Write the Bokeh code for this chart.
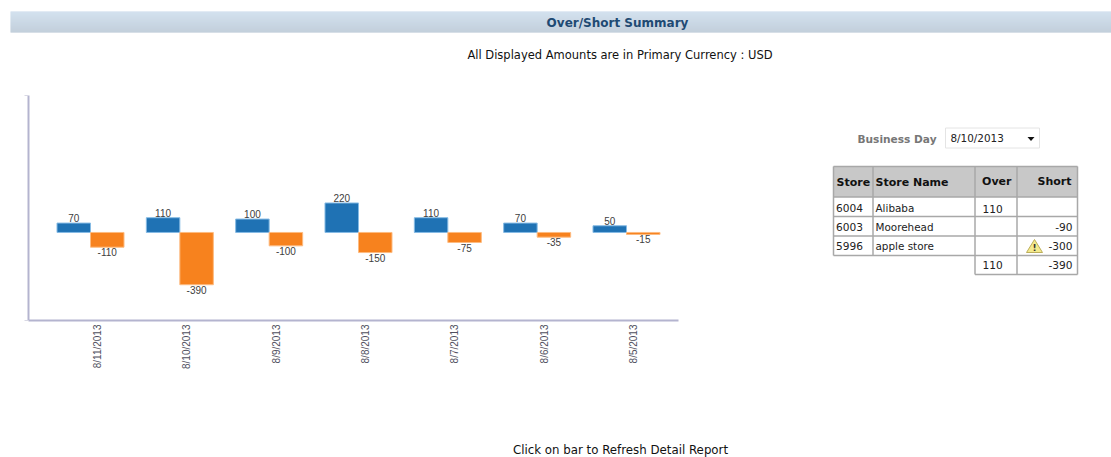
from math import pi
from bokeh.plotting import figure
from bokeh.layouts import column, row
from bokeh.models import Range1d, FixedTicker
from bokeh.core.properties import value
from bokeh.embed import file_html
from bokeh.resources import INLINE

# ---- data ----
dates = ["8/11/2013", "8/10/2013", "8/9/2013", "8/8/2013", "8/7/2013", "8/6/2013", "8/5/2013"]
over = [70, 110, 100, 220, 110, 70, 50]
short = [-110, -390, -100, -150, -75, -35, -15]

table_headers = ["Store", "Store Name", "Over", "Short"]
table_store = ["6004", "6003", "5996"]
table_name = ["Alibaba", "Moorehead", "apple store"]
table_over = ["110", "", ""]
table_short = ["", "-90", "-300"]
total_over = "110"
total_short = "-390"

title_text = "Over/Short Summary"
subtitle_text = "All Displayed Amounts are in Primary Currency : USD"
footer_text = "Click on bar to Refresh Detail Report"
selector_label = "Business Day"
selector_value = "8/10/2013"

UI = value("DejaVu Sans")
CHART = value("Liberation Sans")


def page_fig(x0, x1, y0, y1, **kw):
    """A figure whose data coordinates are page pixels (y downwards)."""
    f = figure(width=x1 - x0, height=y1 - y0, x_range=Range1d(x0, x1), y_range=Range1d(y1, y0),
               output_backend="svg", toolbar_location=None, min_border=0,
               outline_line_color=None, background_fill_color="white", **kw)
    f.axis.visible = False
    f.grid.visible = False
    return f


def txt(f, x, y, s, size="12px", color="#222222", style="normal", align="left"):
    f.text([x], [y], text=[s], text_font=UI, text_font_size=size, text_color=color,
           text_font_style=style, text_align=align, text_baseline="middle")


# ---- header ----
head = page_fig(0, 1111, 0, 90)
rows_n = 21
for i in range(rows_n):
    t = i / (rows_n - 1)
    c = "#%02x%02x%02x" % (int(197 - 22 * t), int(216 - 24 * t), int(234 - 26 * t))
    head.quad(left=[10], right=[1111], top=[11 + i], bottom=[12 + i], fill_color=c, line_color=None)
txt(head, 617, 22, title_text, "12px", "#1f4a73", "bold", "center")
txt(head, 619.5, 54, subtitle_text, "11.5px", "#111111", "normal", "center")

# ---- chart ----
PX = 89.33
idx = list(range(len(dates)))
w = 33.5 / PX
shift = 7 / PX
chart = figure(width=698, height=330, x_range=Range1d(-69 / PX, 6 + 45 / PX), y_range=Range1d(-657, 1022),
               output_backend="svg", toolbar_location=None, min_border_left=28, min_border_right=20,
               min_border_top=5, min_border_bottom=100, outline_line_color=None)
chart.grid.visible = False
x_over = [i - shift - w / 2 for i in idx]
x_short = [i - shift + w / 2 for i in idx]
chart.vbar(x=x_over, top=over, bottom=0, width=w, fill_color="#1f72b4", line_color="#86bbe4", line_width=1)
chart.vbar(x=x_short, top=0, bottom=short, width=w, fill_color="#f7821e", line_color="#fdbb80", line_width=1)
chart.text(x=x_over, y=over, text=[str(v) for v in over], text_font=CHART, text_font_size="10px",
           text_color="#404040", text_align="center", text_baseline="bottom", y_offset=-1)
chart.text(x=x_short, y=short, text=[str(v) for v in short], text_font=CHART, text_font_size="10px",
           text_color="#404040", text_align="center", text_baseline="top", y_offset=1)
ax = chart.xaxis[0]
ax.ticker = FixedTicker(ticks=idx)
ax.major_label_overrides = {i: d for i, d in zip(idx, dates)}
ax.major_label_orientation = pi / 2
ax.major_label_text_font = "Liberation Sans"
ax.major_label_text_font_size = "10px"
ax.major_label_text_color = "#505060"
ax.major_tick_out = 0
ax.major_tick_in = 0
ax.major_label_standoff = 4
ax.major_tick_line_color = None
ax.minor_tick_line_color = None
ax.axis_line_color = "#b4b4cf"
ax.axis_line_width = 2
ay = chart.yaxis[0]
ay.ticker = FixedTicker(ticks=[-657, 1022])
ay.major_label_text_color = None
ay.major_label_text_font_size = "1px"
ay.major_tick_out = 4
ay.major_tick_in = 0
ay.major_tick_line_color = "#d8d8e4"
ay.minor_tick_line_color = None
ay.axis_line_color = "#b4b4cf"
ay.axis_line_width = 2

# ---- right panel (frame aligned with the chart's frame inside the row) ----
tb = figure(width=413, height=330, x_range=Range1d(698, 1111), y_range=Range1d(320, 95),
            output_backend="svg", toolbar_location=None, min_border_left=0, min_border_right=0,
            min_border_top=5, min_border_bottom=100, outline_line_color=None)
tb.axis.visible = False
tb.grid.visible = False
txt(tb, 857, 138, selector_label, "10.6px", "#777777", "bold")
tb.quad(left=[945], right=[1039], top=[127.5], bottom=[147.5], fill_color="white", line_color="#e4e4e4")
txt(tb, 950, 137.5, selector_value, "10.4px", "#222222")
tb.patch([1027, 1034, 1030.5], [136.5, 136.5, 140.5], fill_color="#111111", line_color=None)

cols = [833, 872.5, 974.5, 1016.5, 1077]
ys = [166, 196.5, 216, 235.5, 255, 274]
LINE = "#a8a8a8"
tb.quad(left=[cols[0]], right=[cols[-1]], top=[ys[0]], bottom=[ys[1]], fill_color="#c8c8c8", line_color=None)
for y in ys[:5]:
    tb.line([cols[0], cols[-1]], [y, y], line_color=LINE, line_width=1.5)
tb.line([cols[2], cols[-1]], [ys[5], ys[5]], line_color=LINE, line_width=1.5)
for c in cols:
    top = ys[5] if c in cols[2:] else ys[4]
    tb.line([c, c], [ys[0], top], line_color=LINE, line_width=1.5)

txt(tb, 836, 181.5, table_headers[0], "11px", "#111111", "bold")
txt(tb, 875, 182, table_headers[1], "11px", "#111111", "bold")
txt(tb, 1011, 181, table_headers[2], "11px", "#111111", "bold", "right")
txt(tb, 1071, 181, table_headers[3], "11px", "#111111", "bold", "right")
row_y = [207, 226, 245]
for y, a, b, c, d in zip(row_y, table_store, table_name, table_over, table_short):
    txt(tb, 835.5, y, a, "10.6px")
    txt(tb, 875, y, b, "10.4px")
    if c:
        txt(tb, 982, y + 1, c, "10.6px")
    if d:
        txt(tb, 1072, y, d, "10.6px", align="right")
txt(tb, 982, 264, total_over, "10.6px")
txt(tb, 1072, 264, total_short, "10.6px", align="right")
tb.patch([1026, 1042, 1034], [252, 252, 239], fill_color="#f4ea8c", line_color="#bcae5a", line_width=1)
txt(tb, 1034, 247, "!", "9px", "#333333", "bold", "center")

# ---- footer ----
foot = page_fig(0, 1111, 420, 457)
txt(foot, 620, 449, footer_text, "11.8px", "#111111", "normal", "center")

page = column(head, row(chart, tb, spacing=0), foot, spacing=0)
open("out.html", "w").write(file_html(page, INLINE))
